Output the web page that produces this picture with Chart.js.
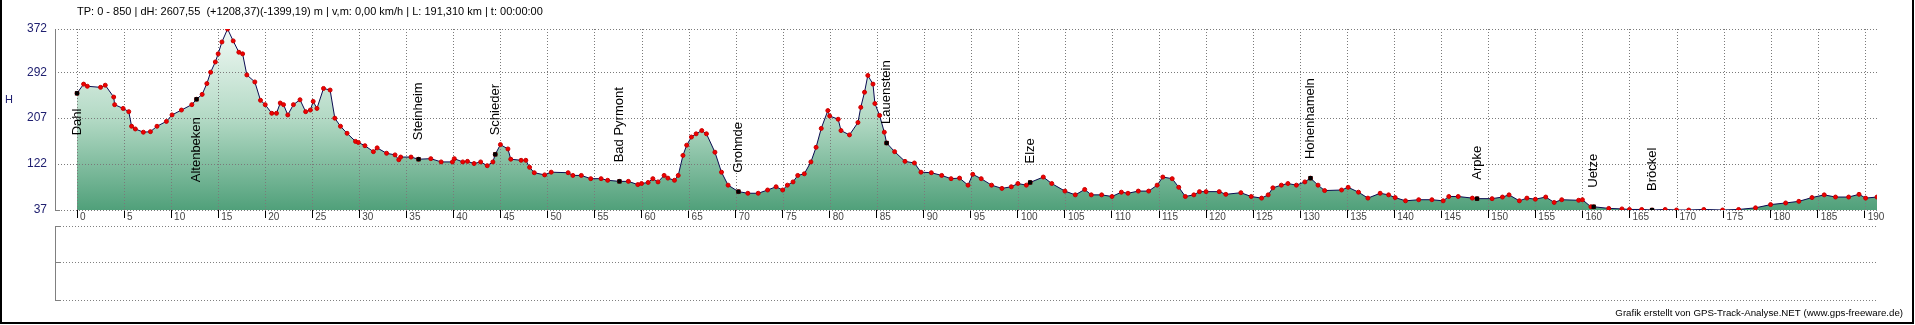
<!DOCTYPE html>
<html>
<head>
<meta charset="utf-8">
<script src="https://cdn.jsdelivr.net/npm/chart.js@4.4.1/dist/chart.umd.min.js"></script>
<style>
  html, body { margin: 0; padding: 0; background: #fff; }
  #profil { display: block; }
</style>
</head>
<body>
<canvas id="profil" width="1915" height="325"></canvas>
<script>
// ---- data ----
var distKm = [0, 0.7, 1.1, 2.5, 3.0, 3.9, 4.0, 4.9, 5.5, 5.8, 6.2, 7.05, 7.8, 8.5, 9.5, 10.1, 11.1, 12.2, 12.7, 13.3,
  13.8, 14.2, 14.7, 15.0, 15.4, 16.0, 16.6, 17.2, 17.6, 18.05, 18.9, 19.5, 20.0, 20.7, 21.2, 21.6, 21.95, 22.4, 23.0, 23.7,
  24.3, 24.8, 25.1, 25.5, 26.2, 26.9, 27.4, 28.0, 28.7, 29.6, 29.9, 30.6, 31.5, 31.9, 32.9, 33.8, 34.2, 34.4, 35.5, 36.3,
  37.6, 38.7, 39.9, 40.1, 41.0, 41.5, 42.2, 42.9, 43.6, 44.2, 44.45, 45.0, 45.8, 46.1, 47.2, 47.7, 48.1, 48.6, 49.7, 50.4,
  52.2, 52.7, 53.6, 54.6, 55.7, 56.4, 57.65, 58.6, 59.6, 60.0, 60.7, 61.2, 61.75, 62.4, 62.8, 63.5, 63.9, 64.4, 64.8, 65.3,
  65.8, 66.4, 66.9, 67.8, 68.5, 69.2, 70.3, 71.3, 72.4, 73.4, 74.3, 75.0, 75.5, 76.1, 76.6, 77.3, 78.0, 78.55, 79.1, 79.8,
  80.0, 80.9, 81.2, 82.1, 83.0, 83.3, 83.7, 84.05, 84.6, 84.8, 85.3, 85.8, 86.05, 86.9, 88.0, 89.0, 89.7, 90.8, 91.9, 92.9,
  93.8, 94.7, 95.2, 96.1, 97.2, 98.3, 99.3, 100.0, 100.9, 101.3, 102.7, 103.6, 105.0, 106.1, 107.1, 107.8, 108.9, 110.0, 111.0, 111.7,
  112.8, 113.9, 114.8, 115.4, 116.4, 117.1, 117.8, 118.7, 119.3, 120.0, 121.4, 122.1, 123.7, 124.8, 125.9, 126.6, 127.1, 128.0, 128.7, 129.6,
  130.5, 131.1, 131.9, 132.6, 134.4, 135.1, 136.2, 137.2, 138.5, 139.4, 140.1, 141.2, 142.6, 144.0, 145.2, 145.8, 146.8, 148.3, 148.8, 150.4,
  151.5, 152.2, 153.3, 154.1, 155.0, 156.1, 157.0, 157.8, 159.6, 160.0, 160.9, 161.2, 162.8, 164.2, 165.0, 166.3, 167.4, 168.8, 170.0, 171.3,
  172.9, 174.9, 176.6, 178.4, 180.0, 181.6, 183.0, 184.4, 185.7, 186.9, 188.3, 189.4, 190.1, 191.31];
var heightM = [253, 270, 266, 264, 268, 246, 232, 225, 219, 192, 187, 181, 182, 192, 201, 213, 222, 232, 242, 251,
  271, 292, 311, 326, 348, 372, 350, 329, 326, 287, 274, 240, 232, 216, 216, 235, 232, 213, 232, 241,
  219, 222, 238, 225, 262, 259, 207, 192, 179, 164, 162, 156, 145, 152, 142, 139, 130, 135, 135, 131,
  132, 126, 126, 132, 126, 127, 123, 126, 119, 126, 140, 158, 150, 131, 129, 129, 116, 106, 102, 107,
  106, 101, 101, 95, 95, 92, 90, 90, 84, 86, 88, 95, 89, 101, 96, 92, 101, 138, 157, 172,
  178, 184, 178, 144, 107, 83, 71, 68, 68, 74, 80, 74, 83, 89, 101, 104, 126, 153, 188, 221,
  211, 205, 184, 176, 199, 227, 255, 286, 270, 234, 212, 181, 161, 145, 127, 124, 107, 106, 101, 95,
  96, 83, 103, 95, 83, 77, 80, 86, 83, 88, 98, 86, 72, 65, 75, 65, 65, 62, 70, 68,
  72, 72, 83, 98, 95, 79, 62, 65, 71, 71, 71, 66, 69, 62, 59, 65, 78, 83, 86, 83,
  89, 96, 83, 73, 74, 79, 70, 59, 68, 65, 60, 54, 56, 56, 54, 62, 62, 59, 58, 58,
  61, 65, 54, 59, 57, 61, 51, 56, 55, 56, 43, 43, 40, 39, 38, 38, 37, 38, 37, 37,
  38, 37, 38, 41, 47, 50, 53, 60, 65, 61, 61, 66, 59, 61];

// places along the route
var placeNames = ['Dahl', 'Altenbeken', 'Steinheim', 'Schieder', 'Bad Pyrmont', 'Grohnde', 'Lauenstein', 'Elze',
  'Hohenhameln', 'Arpke', 'Uetze', 'Bröckel'];
var placeKm = [0, 12.7, 36.3, 44.45, 57.65, 70.3, 86.05, 101.3, 131.1, 148.8, 161.2, 167.4];
var placeM = [253, 242, 131, 140, 90, 71, 161, 88, 96, 58, 43, 37];

// axis ticks
var xTicks = [];
for (var k = 0; k <= 190; k += 5) xTicks.push(k);
var yTicks = [37, 122, 207, 292, 372];

var titleText = 'TP: 0 - 850 | dH: 2607,55  (+1208,37)(-1399,19) m | v,m: 0,00 km/h | L: 191,310 km | t: 00:00:00';
var creditText = 'Grafik erstellt von GPS-Track-Analyse.NET (www.gps-freeware.de)';

var FONT = 'Arial, "Liberation Sans", sans-serif';

var track = distKm.map(function (d, i) { return { x: d, y: heightM[i] }; });
var places = placeKm.map(function (d, i) { return { x: d, y: placeM[i] }; });

// label placement (px from the marker to the start of the text, negative = above)
var labelShift = { 'Dahl': 42, 'Altenbeken': 83 };

function dotted(c, x1, y1, x2, y2) {
  c.beginPath();
  c.moveTo(x1, y1);
  c.lineTo(x2, y2);
  c.stroke();
}

var extras = {
  id: 'extras',
  beforeDatasetsDraw: function (chart) {
    // dotted grid on top of the filled area
    var c = chart.ctx, a = chart.chartArea, sx = chart.scales.x, sy = chart.scales.y;
    c.save();
    c.strokeStyle = '#7a7a7a';
    c.lineWidth = 1;
    c.setLineDash([1, 2]);
    xTicks.forEach(function (v) {
      var px = Math.round(sx.getPixelForValue(v)) + 0.5;
      dotted(c, px, a.top, px, a.bottom);
    });
    yTicks.forEach(function (v) {
      var py = Math.round(sy.getPixelForValue(v)) + 0.5;
      dotted(c, a.left, py, a.right, py);
    });
    c.restore();
  },
  afterDatasetsDraw: function (chart) {
    var c = chart.ctx;
    var meta = chart.getDatasetMeta(0);
    c.save();
    c.fillStyle = '#000';
    c.font = '13px ' + FONT;
    c.textAlign = 'left';
    c.textBaseline = 'middle';
    meta.data.forEach(function (pt, i) {
      var name = placeNames[i];
      var shift = labelShift[name] !== undefined ? labelShift[name] : -19;
      c.save();
      c.translate(pt.x, pt.y + shift);
      c.rotate(-Math.PI / 2);
      c.fillText(name, 0, 0);
      c.restore();
    });
    c.restore();
  },
  afterDraw: function (chart) {
    var c = chart.ctx, a = chart.chartArea;
    c.save();
    // title line
    c.fillStyle = '#000';
    c.font = '11px ' + FONT;
    c.textBaseline = 'middle';
    c.textAlign = 'left';
    c.fillText(titleText, 77, 12);
    // axis name
    c.fillStyle = '#202070';
    c.fillText('H', 5, 100);
    // credit
    c.fillStyle = '#000';
    c.font = '9.7px ' + FONT;
    c.textAlign = 'right';
    c.fillText(creditText, 1903, 313);

    // empty lower panel
    c.strokeStyle = '#808080';
    c.lineWidth = 1;
    dotted(c, a.left + 0.5, 226, a.left + 0.5, 300);
    [226.5, 262.5, 300.5].forEach(function (py) {
      c.setLineDash([]);
      dotted(c, a.left, py, a.left + 5, py);
      c.setLineDash([1, 2]);
      dotted(c, a.left + 5, py, a.right, py);
    });
    c.setLineDash([]);
    dotted(c, a.left, a.bottom + 0.5, a.left + 5, a.bottom + 0.5);

    // frame
    c.strokeStyle = '#000';
    c.lineWidth = 2;
    c.beginPath();
    c.moveTo(1, 0);
    c.lineTo(1, 323);
    c.lineTo(1913, 323);
    c.lineTo(1913, 0);
    c.stroke();
    c.restore();
  }
};

var ctx = document.getElementById('profil').getContext('2d');
var chart = new Chart(ctx, {
  type: 'line',
  data: {
    datasets: [{
      label: 'Orte',
      data: places,
      showLine: false,
      pointStyle: 'rect',
      pointRadius: 3,
      pointBackgroundColor: '#000',
      pointBorderColor: '#000',
      pointBorderWidth: 0,
      order: 0
    }, {
      label: 'Höhe',
      data: track,
      borderColor: '#0a0a50',
      borderWidth: 1,
      tension: 0,
      pointRadius: 2,
      pointBackgroundColor: '#f00000',
      pointBorderColor: '#c80000',
      pointBorderWidth: 1,
      fill: 'start',
      backgroundColor: function (context) {
        var area = context.chart.chartArea;
        if (!area) return 'rgba(0,0,0,0)';
        var g = context.chart.ctx.createLinearGradient(0, area.top, 0, area.bottom);
        g.addColorStop(0, '#f1f9f5');
        g.addColorStop(0.5, '#b2d9c4');
        g.addColorStop(1, '#50a07a');
        return g;
      },
      order: 1
    }]
  },
  options: {
    responsive: false,
    animation: false,
    devicePixelRatio: 1,
    layout: { padding: { left: 0, top: 29, right: 38, bottom: 95 } },
    plugins: {
      legend: { display: false },
      tooltip: { enabled: false },
      filler: { drawTime: 'beforeDatasetsDraw' }
    },
    scales: {
      x: {
        type: 'linear',
        min: -2.34,
        max: 191.31,
        afterBuildTicks: function (scale) {
          scale.ticks = xTicks.map(function (v) { return { value: v }; });
        },
        afterFit: function (scale) { scale.height = 20; },
        grid: { drawOnChartArea: false, drawTicks: true, tickLength: 8, tickColor: '#000', color: '#000' },
        border: { display: false },
        ticks: {
          autoSkip: false,
          maxRotation: 0,
          align: 'start',
          labelOffset: 3,
          padding: -7,
          color: '#444',
          font: { family: FONT, size: 10 }
        }
      },
      y: {
        min: 37,
        max: 372,
        afterBuildTicks: function (scale) {
          scale.ticks = yTicks.map(function (v) { return { value: v }; });
        },
        afterFit: function (scale) { scale.width = 55; },
        grid: { drawOnChartArea: false, drawTicks: false },
        border: { display: true, color: '#808080' },
        ticks: {
          padding: 8,
          color: '#202070',
          font: { family: FONT, size: 12 }
        }
      }
    }
  },
  plugins: [extras]
});
</script>
</body>
</html>
